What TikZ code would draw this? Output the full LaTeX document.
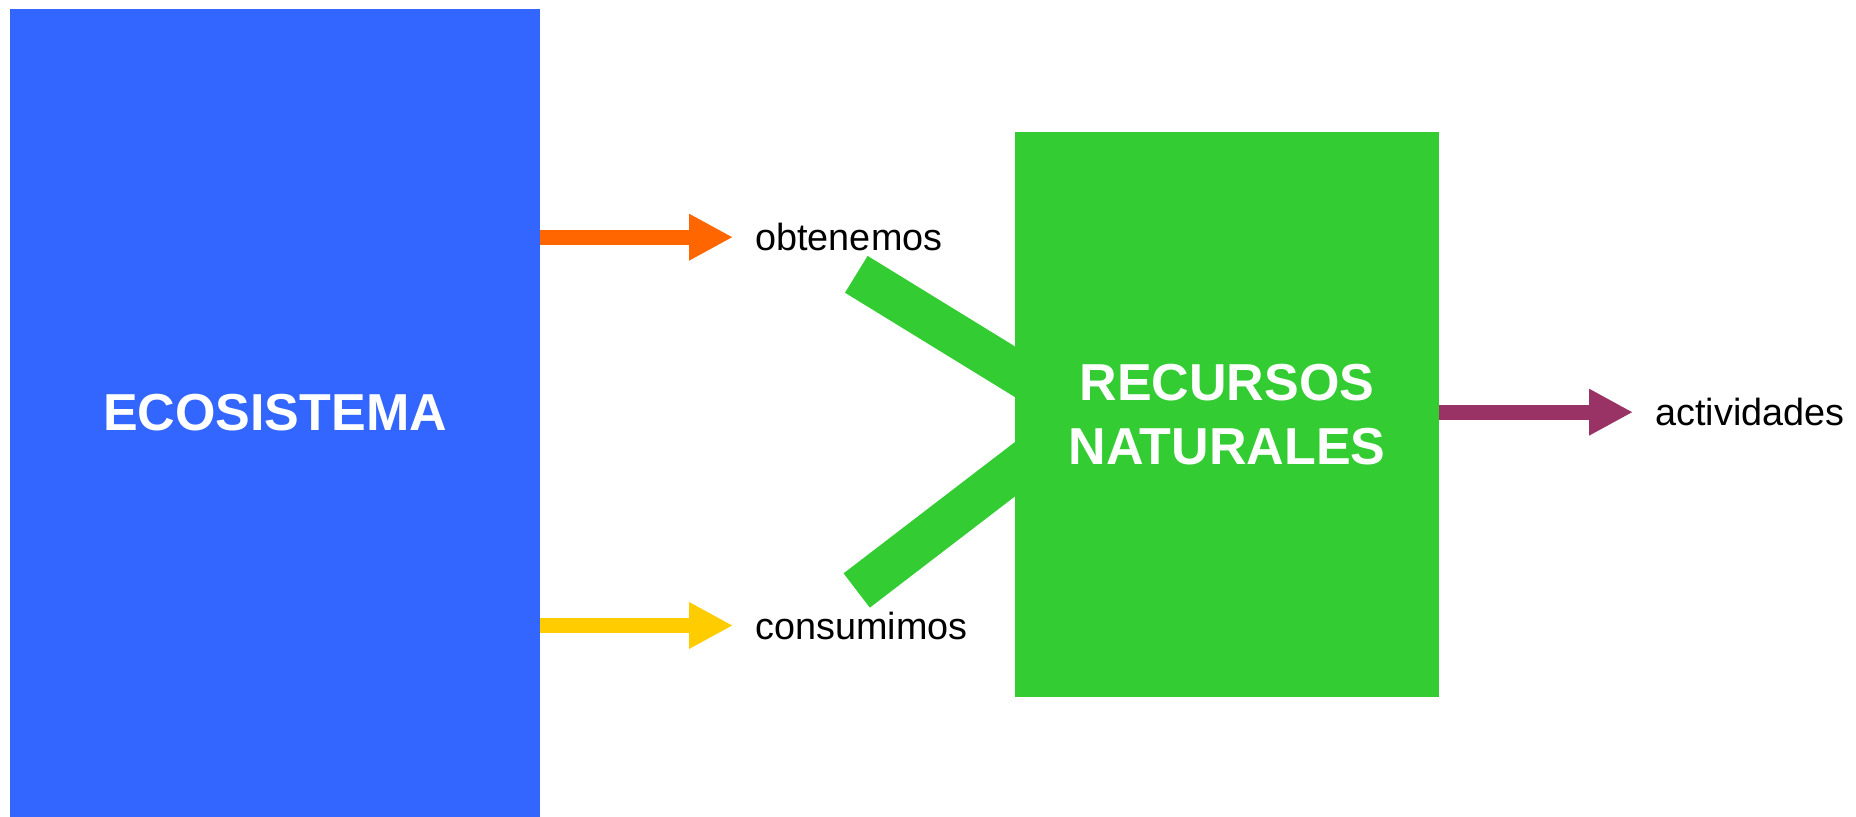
\documentclass[tikz,border=0pt]{standalone}
\usepackage{fontspec}
\setmainfont{Liberation Sans}
\usetikzlibrary{arrows.meta}
\definecolor{ecoblue}{HTML}{3366FF}
\definecolor{recgreen}{HTML}{33CC33}
\definecolor{arrorange}{HTML}{FF6600}
\definecolor{arryellow}{HTML}{FFCC00}
\definecolor{arrplum}{HTML}{993366}
\tikzset{
  x=0.5pt, y=-0.5pt,
  bigbox/.style={rectangle, inner sep=0pt, text=white, align=center,
    font=\fontsize{26pt}{32.2pt}\selectfont\bfseries},
  lbl/.style={inner sep=0pt, anchor=base west, text=black,
    font=\fontsize{18.9pt}{22pt}\selectfont},
  fatarrow/.style={line width=7.5pt, -{Triangle[length=21.9pt, width=21.7pt]}, shorten >=11pt},
  bar/.style={recgreen, line width=21.6pt, line cap=butt}
}
\begin{document}
\begin{tikzpicture}
\useasboundingbox (0,0) rectangle (1856,817);
% green bars (behind the box)
\coordinate (g1) at (856.3,274.3);
\coordinate (e1) at (1030,381);
\coordinate (g2) at (856.7,590.5);
\coordinate (e2) at (1030,457.7);
\draw[bar] (g1) -- (e1);
\draw[bar] (g2) -- (e2);
% boxes
\node[bigbox, fill=ecoblue, minimum width=265pt, minimum height=404pt] (eco) at (275,413) {ECOSISTEMA};
\node[bigbox, fill=recgreen, minimum width=212pt, minimum height=282.5pt] (rec) at (1227,414.5) {RECURSOS\\NATURALES};
% labels
\node[lbl] (ob) at (755,250.7) {obtenemos};
\node[lbl] (co) at (755,639) {consumimos};
\node[lbl] (ac) at (1655,425.7) {actividades};
% arrows
\draw[fatarrow, arrorange] (eco.east |- ob.west) -- (ob.west);
\draw[fatarrow, arryellow] (eco.east |- co.west) -- (co.west);
\draw[fatarrow, arrplum] (rec.east |- ac.west) -- (ac.west);
\end{tikzpicture}
\end{document}
